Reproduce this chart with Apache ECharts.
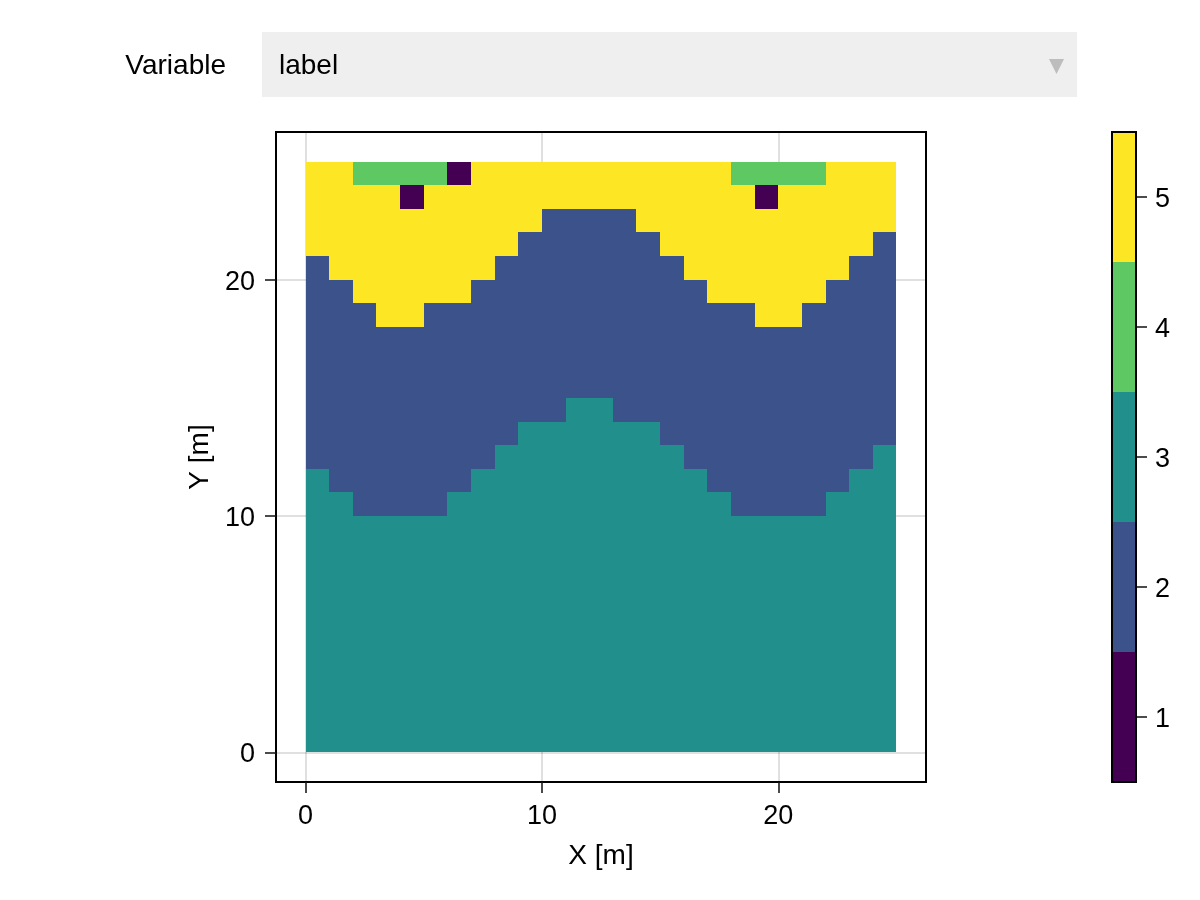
<!DOCTYPE html>
<html>
<head>
<meta charset="utf-8">
<title>label</title>
<style>
  html, body { margin: 0; padding: 0; background: #fff; }
  #chart { width: 1200px; height: 900px; }
</style>
</head>
<body>
<div id="chart"></div>
<script src="https://cdn.jsdelivr.net/npm/echarts@6/dist/echarts.min.js"></script>
<script>
// column by column, left to right: where the teal layer and the blue layer end
const tealTop = [12, 11, 10, 10, 10, 10, 11, 12, 13, 14, 14, 15, 15, 14, 14, 13, 12, 11, 10, 10, 10, 10, 11, 12, 13];
const blueTop = [21, 20, 19, 18, 18, 19, 19, 20, 21, 22, 23, 23, 23, 23, 22, 21, 20, 19, 19, 18, 18, 19, 20, 21, 22];
const gridRows = 25;
// single cells sitting in the yellow layer, [x, y]
const greenCells = [[2, 24], [3, 24], [4, 24], [5, 24], [18, 24], [19, 24], [20, 24], [21, 24]];
const darkCells = [[6, 24], [4, 23], [19, 23]];

const labelLevels = [1, 2, 3, 4, 5];
const labelColors = ["#440154", "#3b528b", "#21908c", "#5ec962", "#fde725"];
const axisTicks = [0, 10, 20];

const variableName = "Variable";
const variableValue = "label";
const xTitle = "X [m]";
const yTitle = "Y [m]";

const FONT = "Liberation Sans";
const FONT_SIZE = 27;
const TITLE_SIZE = 28;

function labelAt(x, y) {
  if (darkCells.some((c) => c[0] === x && c[1] === y)) return 1;
  if (greenCells.some((c) => c[0] === x && c[1] === y)) return 4;
  if (y < tealTop[x]) return 3;
  if (y < blueTop[x]) return 2;
  return 5;
}

let cells = [];
tealTop.forEach((_, x) => {
  for (let y = 0; y < gridRows; y++) {
    cells.push([x, y, labelAt(x, y)]);
  }
});

// pixels are rounded so neighbouring cells share an edge with no seam
function drawRect(api, x0, y0, x1, y1, color) {
  let a = api.coord([x0, y0]);
  let b = api.coord([x1, y1]);
  let left = Math.round(a[0] - 0.01);
  let top = Math.round(b[1]);
  return {
    type: "rect",
    shape: { x: left, y: top, width: Math.round(b[0] - 0.01) - left, height: Math.round(a[1]) - top },
    style: { fill: color },
  };
}

function renderCell(params, api) {
  let x = api.value(0);
  let y = api.value(1);
  return drawRect(api, x, y, x + 1, y + 1, labelColors[api.value(2) - 1]);
}

function renderLevel(params, api) {
  let level = api.value(0);
  return drawRect(api, 0, level - 0.5, 1, level + 0.5, labelColors[level - 1]);
}

const noZeroLine = { show: false, onZero: false };
const tickLine = { show: true, length: 11, lineStyle: { color: "#111", width: 1.5 } };
const tickText = { fontFamily: FONT, fontSize: FONT_SIZE, color: "#000" };
// digits sit a little below the tick, so the label box hangs from it
const sideText = { ...tickText, verticalAlign: "top", lineHeight: 5 };
const softLine = { show: true, lineStyle: { color: "rgba(0,0,0,0.12)", width: 2 } };

const myChart = echarts.init(document.getElementById("chart"));
myChart.setOption({
  backgroundColor: "#fff",
  animation: false,
  grid: [
    { left: 276, top: 132, width: 650, height: 650, show: true, borderColor: "#000", borderWidth: 2, backgroundColor: "#fff" },
    { left: 1112, top: 132, width: 24, height: 650 },
  ],
  xAxis: [
    {
      type: "value",
      gridIndex: 0,
      min: -1.25,
      max: 26.25,
      name: xTitle,
      nameLocation: "middle",
      nameGap: 60,
      nameTextStyle: { fontFamily: FONT, fontSize: TITLE_SIZE, color: "#000" },
      axisLine: noZeroLine,
      axisTick: { ...tickLine, customValues: axisTicks },
      axisLabel: { ...tickText, margin: 21, customValues: axisTicks },
      splitLine: softLine,
    },
    {
      type: "value",
      gridIndex: 1,
      min: 0,
      max: 1,
      axisLine: noZeroLine,
      axisTick: { show: false },
      axisLabel: { show: false },
      splitLine: { show: false },
    },
  ],
  yAxis: [
    {
      type: "value",
      gridIndex: 0,
      min: -1.25,
      max: 26.25,
      name: yTitle,
      nameLocation: "middle",
      nameGap: 62,
      nameTextStyle: { fontFamily: FONT, fontSize: TITLE_SIZE, color: "#000" },
      axisLine: noZeroLine,
      axisTick: { ...tickLine, customValues: axisTicks },
      axisLabel: { ...sideText, margin: 21, customValues: axisTicks },
      splitLine: softLine,
    },
    {
      type: "value",
      gridIndex: 1,
      position: "right",
      min: 0.5,
      max: 5.5,
      axisLine: noZeroLine,
      axisTick: { ...tickLine, customValues: labelLevels },
      axisLabel: { ...sideText, margin: 19, customValues: labelLevels },
      splitLine: { show: false },
    },
  ],
  series: [
    {
      type: "custom",
      xAxisIndex: 0,
      yAxisIndex: 0,
      renderItem: renderCell,
      encode: { x: 0, y: 1 },
      data: cells,
      silent: true,
    },
    {
      type: "custom",
      xAxisIndex: 1,
      yAxisIndex: 1,
      renderItem: renderLevel,
      encode: { y: 0 },
      data: labelLevels.map((level) => [level]),
      silent: true,
    },
  ],
  // dropdown row above the plot and the frame of the colorbar
  graphic: [
    { type: "rect", z: 10, shape: { x: 262, y: 32, width: 815, height: 65 }, style: { fill: "#efefef" } },
    {
      type: "text",
      z: 11,
      x: 226,
      y: 66,
      style: { text: variableName, font: `${TITLE_SIZE}px "${FONT}"`, fill: "#000", textAlign: "right", textVerticalAlign: "middle" },
    },
    {
      type: "text",
      z: 11,
      x: 279,
      y: 66,
      style: { text: variableValue, font: `${TITLE_SIZE}px "${FONT}"`, fill: "#000", textAlign: "left", textVerticalAlign: "middle" },
    },
    { type: "polygon", z: 11, shape: { points: [[1049, 59], [1064, 59], [1056.5, 74]] }, style: { fill: "#bdbdbd" } },
    { type: "rect", z: 10, shape: { x: 1112, y: 132, width: 24, height: 650 }, style: { fill: "none", stroke: "#000", lineWidth: 2 } },
  ],
});
</script>
</body>
</html>
